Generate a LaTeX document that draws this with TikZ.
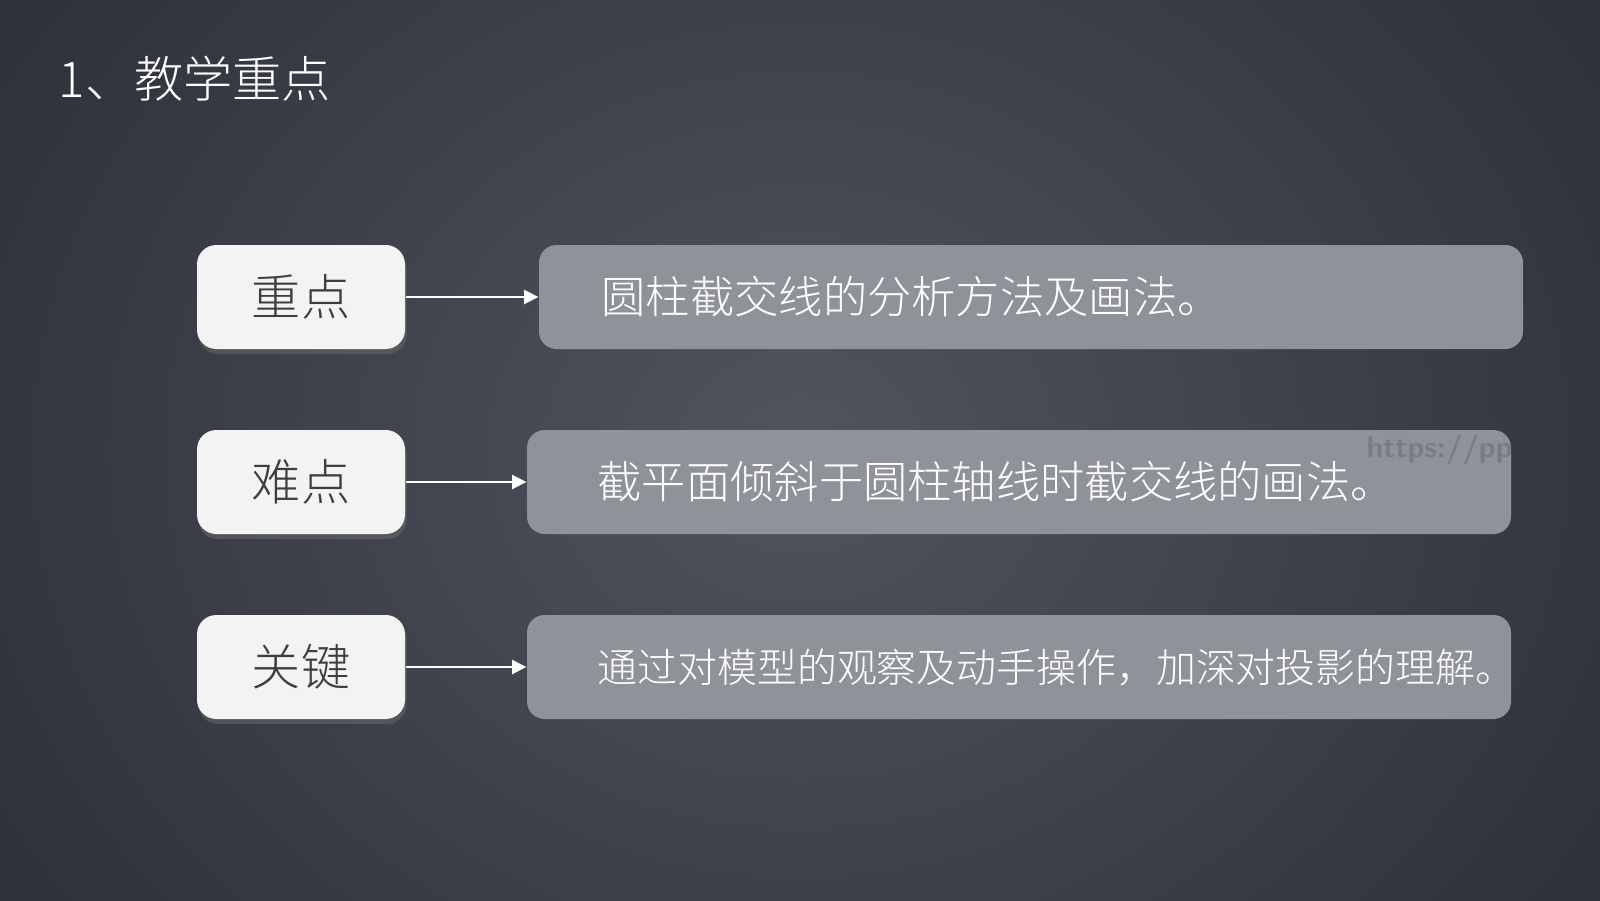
\documentclass[tikz,border=0pt]{standalone}
\usepackage{fontspec}
\setmainfont{Noto Sans CJK SC}[UprightFont=* Light]
\usetikzlibrary{arrows.meta,shadows}
\definecolor{bgin}{RGB}{80,84,94}
\definecolor{bgout}{RGB}{44,47,55}
\definecolor{keyfill}{RGB}{243,243,244}
\definecolor{keytext}{RGB}{62,62,64}
\definecolor{descfill}{RGB}{144,146,154}
\tikzset{
  keybox/.style={draw=none, fill=keyfill, rounded corners=5.5pt, minimum width=2.08cm, minimum height=1.04cm,
    text=keytext, font=\fontsize{14pt}{16pt}\selectfont, drop shadow={opacity=0.35, shadow xshift=0.015cm, shadow yshift=-0.05cm}},
  descbox/.style={draw=none, fill=descfill, rounded corners=5pt, minimum height=1.04cm},
  desctext/.style={anchor=west, text=white, font=\fontsize{12.6pt}{14pt}\selectfont, inner sep=0pt},
  link/.style={draw=white, line width=0.5pt, -{Triangle[length=4pt,width=4pt]}},
}
\begin{document}
\begin{tikzpicture}
\useasboundingbox (0,0) rectangle (16,9);
\shade[inner color=bgin, outer color=bgout] (-2,-4) rectangle (18,13);
\clip (0,0) rectangle (16,9);
\node[anchor=west, text=white, font=\fontsize{14pt}{16pt}\selectfont, inner sep=0pt] (title) at (0.58,8.21) {1、教学重点};

\node[keybox] (k1) at (3.01,6.03) {重点};
\node[keybox] (k2) at (3.01,4.18) {难点};
\node[keybox] (k3) at (3.01,2.33) {关键};

\node[descbox, minimum width=9.84cm] (d1) at (10.31,6.03) {};
\node[descbox, minimum width=9.84cm] (d2) at (10.19,4.18) {};
\node[descbox, minimum width=9.84cm] (d3) at (10.19,2.33) {};

\node[desctext] (t1) at (6.01,6.03) {圆柱截交线的分析方法及画法。};
\node[desctext] (t2) at (5.97,4.18) {截平面倾斜于圆柱轴线时截交线的画法。};
\node[desctext, font=\fontsize{11.35pt}{13pt}\selectfont] (t3) at (5.97,2.33) {通过对模型的观察及动手操作，加深对投影的理解。};
\begin{scope}
\clip (d2.south west) rectangle (d2.north east);
\node[anchor=west, text=black, opacity=0.15, font=\sffamily\bfseries\fontsize{8.5pt}{10pt}\selectfont, inner sep=0pt] (wm) at (13.66,4.50) {https://ppt.};
\end{scope}

\draw[link] (k1.east) -- (d1.west);
\draw[link] (k2.east) -- (d2.west);
\draw[link] (k3.east) -- (d3.west);
\end{tikzpicture}
\end{document}
